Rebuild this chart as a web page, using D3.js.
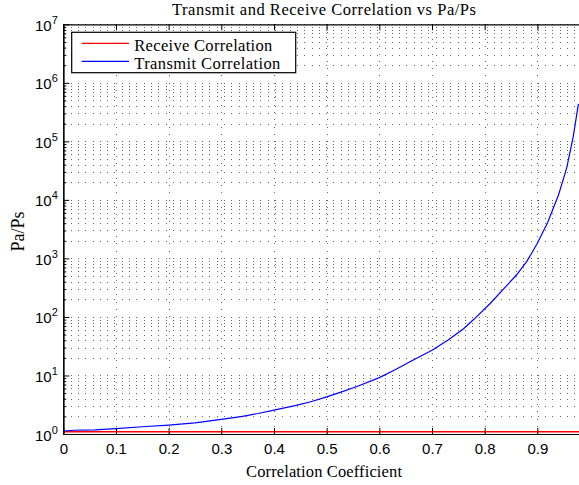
<!DOCTYPE html>
<html>
<head>
<meta charset="utf-8">
<script src="https://cdn.jsdelivr.net/npm/d3@7"></script>
<style>
  body { margin: 0; background: #fff; }
  svg { display: block; }
  .serif { font-family: "Liberation Serif", "Times New Roman", serif; fill: #000; }
  .tick text { font-family: "Liberation Sans", Arial, sans-serif; font-size: 15px; fill: #000; }
</style>
</head>
<body>
<svg id="chart" width="579" height="485"></svg>
<script>
// values
var coef     = [0, 0.02, 0.06, 0.1, 0.15, 0.2, 0.25, 0.3, 0.34, 0.37, 0.4, 0.44, 0.47, 0.5,
                0.53, 0.56, 0.6, 0.63, 0.66, 0.7, 0.73, 0.76, 0.78, 0.81, 0.84, 0.86, 0.88,
                0.89, 0.9, 0.92, 0.94, 0.95, 0.956, 0.968, 0.978];
var transmit = [1.12, 1.16, 1.18, 1.24, 1.33, 1.42, 1.55, 1.78, 2.0, 2.24, 2.55, 3.05, 3.55, 4.3,
                5.3, 6.6, 9.2, 12.5, 17.5, 27, 40, 63, 92, 168, 330, 515, 890,
                1260, 1820, 4200, 12000, 23500, 36000, 118000, 437000];
var receiveCoef = [0, 0.25, 0.5, 0.75, 1];
var receive     = [1.09, 1.09, 1.09, 1.09, 1.09];

var xTicks = [0, 0.1, 0.2, 0.3, 0.4, 0.5, 0.6, 0.7, 0.8, 0.9];
var decades = [0, 1, 2, 3, 4, 5, 6, 7];

var plotLeft = 63.3, plotTop = 24.3, plotBottom = 434;
var x = d3.scaleLinear().domain([0, 1]).range([plotLeft, plotLeft + 526.7]);
var y = d3.scaleLog().domain([1, 1e7]).range([plotBottom, plotTop]);

var svg = d3.select("#chart");

// minor values for the log axis
var minors = [];
for (var d = 0; d < 7; d++) {
  for (var m = 2; m <= 9; m++) minors.push(m * Math.pow(10, d));
}
var majors = decades.map(function(e) { return Math.pow(10, e); });

// grid, dotted
var grid = svg.append("g").attr("stroke", "#666").attr("stroke-width", 1)
  .attr("stroke-dasharray", "1,6.3").attr("shape-rendering", "crispEdges");
grid.selectAll("line.h")
  .data(majors.concat(minors))
  .enter().append("line")
  .attr("x1", plotLeft).attr("x2", 579)
  .attr("y1", function(d) { return Math.round(y(d)) + 0.5; })
  .attr("y2", function(d) { return Math.round(y(d)) + 0.5; });
grid.selectAll("line.v")
  .data(xTicks.slice(1))
  .enter().append("line")
  .attr("y1", plotTop).attr("y2", plotBottom)
  .attr("x1", function(d) { return Math.round(x(d)) + 0.5; })
  .attr("x2", function(d) { return Math.round(x(d)) + 0.5; });

// lines
var line = d3.line()
  .x(function(d) { return x(d[0]); })
  .y(function(d) { return y(d[1]); });

svg.append("path")
  .datum(receiveCoef.map(function(c, i) { return [c, receive[i]]; }))
  .attr("fill", "none").attr("stroke", "#ff0000").attr("stroke-width", 1.6)
  .attr("d", line);

svg.append("path")
  .datum(coef.map(function(c, i) { return [c, transmit[i]]; }))
  .attr("fill", "none").attr("stroke", "#0000ff").attr("stroke-width", 1.2)
  .attr("d", line);

// axes
svg.append("g").attr("transform", "translate(0," + plotBottom + ")")
  .call(d3.axisBottom(x).tickValues(xTicks).tickFormat(function(d) { return d === 0 ? "0" : d3.format(".1f")(d); })
    .tickSizeInner(-6).tickSizeOuter(0).tickPadding(9.5));
svg.append("g").attr("transform", "translate(0," + plotTop + ")")
  .call(d3.axisTop(x).tickValues(xTicks).tickFormat("").tickSizeInner(-6).tickSizeOuter(0));

var yAxis = svg.append("g").attr("transform", "translate(" + plotLeft + ",0)")
  .call(d3.axisLeft(y).tickValues(majors).tickFormat("").tickSizeInner(-6).tickSizeOuter(0));
svg.append("g").attr("transform", "translate(" + plotLeft + ",0)")
  .call(d3.axisLeft(y).tickValues(minors).tickFormat("").tickSizeInner(-3).tickSizeOuter(0));

svg.selectAll(".domain").attr("stroke", "#000").attr("stroke-width", 1.2);
svg.selectAll(".tick line").attr("stroke", "#000");

// y tick labels as 10^n
yAxis.selectAll(".tick").each(function(d) {
  var t = d3.select(this).append("text")
    .attr("x", -5.5).attr("y", 6).attr("text-anchor", "end").attr("fill", "#000");
  t.append("tspan").text("10");
  t.append("tspan").attr("dy", -7).attr("font-size", "11px").text(Math.round(Math.log10(d)));
});

// titles
svg.append("text").attr("class", "serif")
  .attr("x", 324).attr("y", 14.5).attr("text-anchor", "middle")
  .attr("font-size", "16.5px").attr("textLength", 304).attr("lengthAdjust", "spacing")
  .text("Transmit and Receive Correlation vs Pa/Ps");

svg.append("text").attr("class", "serif")
  .attr("x", 324).attr("y", 476.5).attr("text-anchor", "middle")
  .attr("font-size", "16.5px").attr("textLength", 156).attr("lengthAdjust", "spacing")
  .text("Correlation Coefficient");

svg.append("text").attr("class", "serif")
  .attr("transform", "translate(24,231.5) rotate(-90)").attr("text-anchor", "middle")
  .attr("font-size", "18px")
  .text("Pa/Ps");

// legend
var legend = svg.append("g");
legend.append("rect")
  .attr("x", 71.7).attr("y", 32.3).attr("width", 224).attr("height", 40.4)
  .attr("fill", "#fff").attr("stroke", "#000").attr("stroke-width", 1.2);
var items = [
  { name: "Receive Correlation", color: "#ff0000", w: 138 },
  { name: "Transmit Correlation", color: "#0000ff", w: 146 }
];
items.forEach(function(it, i) {
  var yy = 43.3 + i * 18;
  legend.append("line").attr("x1", 81.7).attr("x2", 129).attr("y1", yy).attr("y2", yy)
    .attr("stroke", it.color).attr("stroke-width", 1.2);
  legend.append("text").attr("class", "serif")
    .attr("x", 134.3).attr("y", yy + 7.2).attr("font-size", "16.5px")
    .attr("textLength", it.w).attr("lengthAdjust", "spacing")
    .text(it.name);
});
</script>
</body>
</html>
